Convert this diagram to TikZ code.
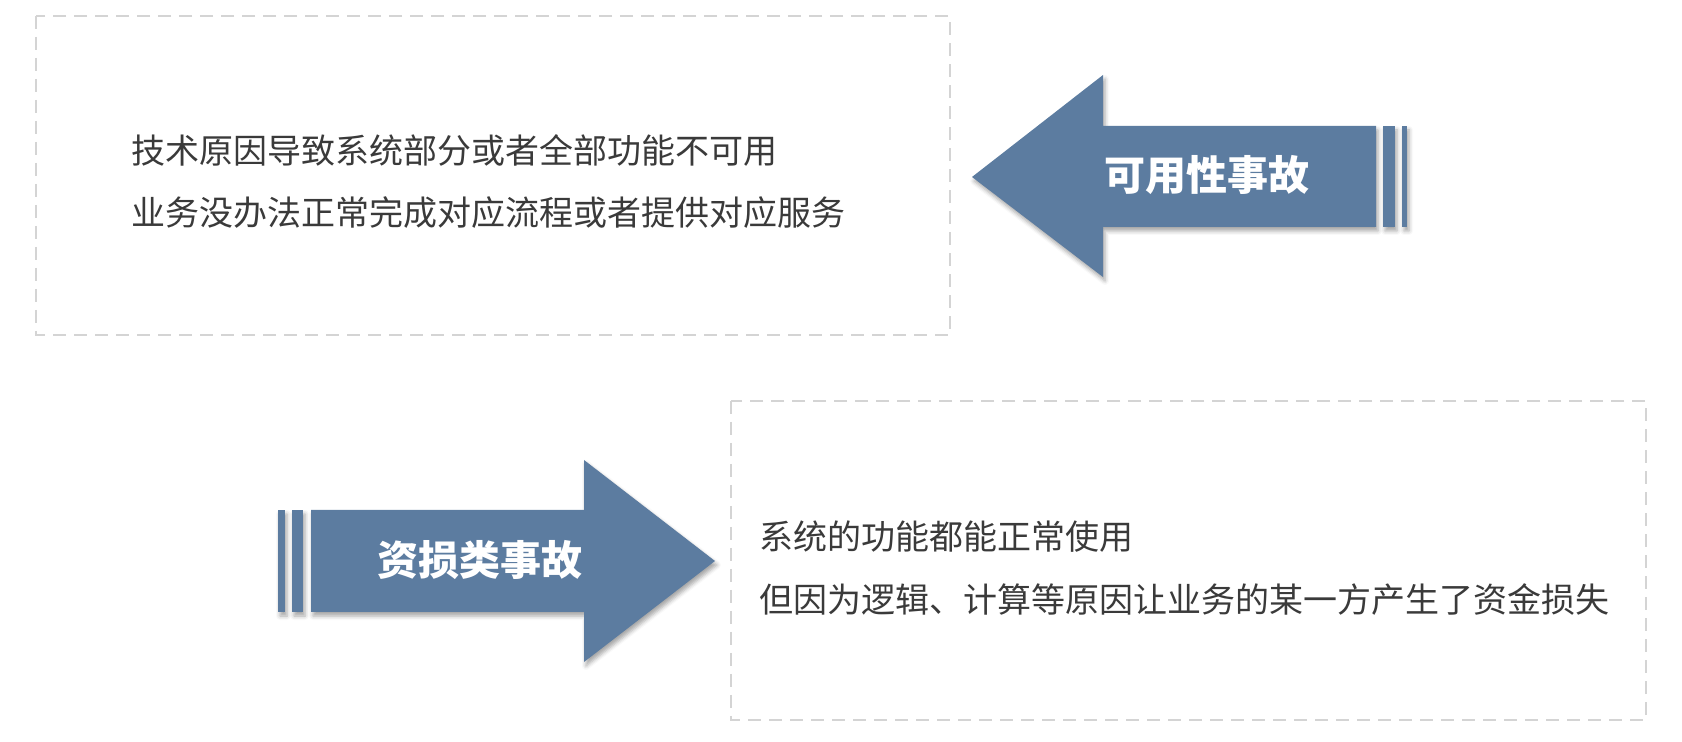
\documentclass[tikz,border=0pt]{standalone}
\usepackage{fontspec}
\newfontfamily\cjk{Noto Sans CJK SC}
\usetikzlibrary{shadows.blur}
\definecolor{arrowblue}{RGB}{92,124,160}
\definecolor{textgray}{RGB}{58,58,58}
\definecolor{dashgray}{RGB}{212,212,212}
\tikzset{
  dashbox/.style={draw=dashgray,line width=0.8pt,dash pattern=on 6.5pt off 4pt},
  bigarrow/.style={fill=arrowblue,blur shadow={shadow xshift=1pt,shadow yshift=-2pt,shadow blur radius=2pt,shadow opacity=35}},
  stripe/.style={fill=arrowblue,blur shadow={shadow xshift=1pt,shadow yshift=-2pt,shadow blur radius=2pt,shadow opacity=35}},
  label/.style={inner sep=0pt,text=white,font=\cjk\bfseries\fontsize{20.5pt}{24pt}\selectfont},
  line/.style={inner sep=0pt,anchor=west,text=textgray,font=\cjk\fontsize{17pt}{20pt}\selectfont}
}
\begin{document}
\begin{tikzpicture}[x=0.5pt,y=-0.5pt]
  \useasboundingbox (0,0) rectangle (1682,742);
  % upper box
  \draw[dashbox] (36,16) rectangle (950,335);
  \node[line] (t1) at (131,150) {技术原因导致系统部分或者全部功能不可用};
  \node[line] (t2) at (131,213) {业务没办法正常完成对应流程或者提供对应服务};
  % lower box
  \draw[dashbox] (731,401) rectangle (1646,720);
  \node[line] (t3) at (759,537) {系统的功能都能正常使用};
  \node[line] (t4) at (759,600) {但因为逻辑、计算等原因让业务的某一方产生了资金损失};
  % left arrow
  \path[bigarrow] (972,177) -- (1103,75) -- (1103,126) -- (1376,126)
    -- (1376,227) -- (1103,227) -- (1103,277) -- cycle;
  \foreach \a/\b in {1383/1395,1402/1407}
    \path[stripe] (\a,126) rectangle (\b,227);
  \node[label] (avail) at (1207,175) {可用性事故};
  % right arrow
  \path[bigarrow] (311,510) -- (584,510) -- (584,460) -- (715,561)
    -- (584,662) -- (584,612) -- (311,612) -- cycle;
  \foreach \a/\b in {278/285,292/303}
    \path[stripe] (\a,510) rectangle (\b,612);
  \node[label] (loss) at (480,560) {资损类事故};
\end{tikzpicture}
\end{document}
